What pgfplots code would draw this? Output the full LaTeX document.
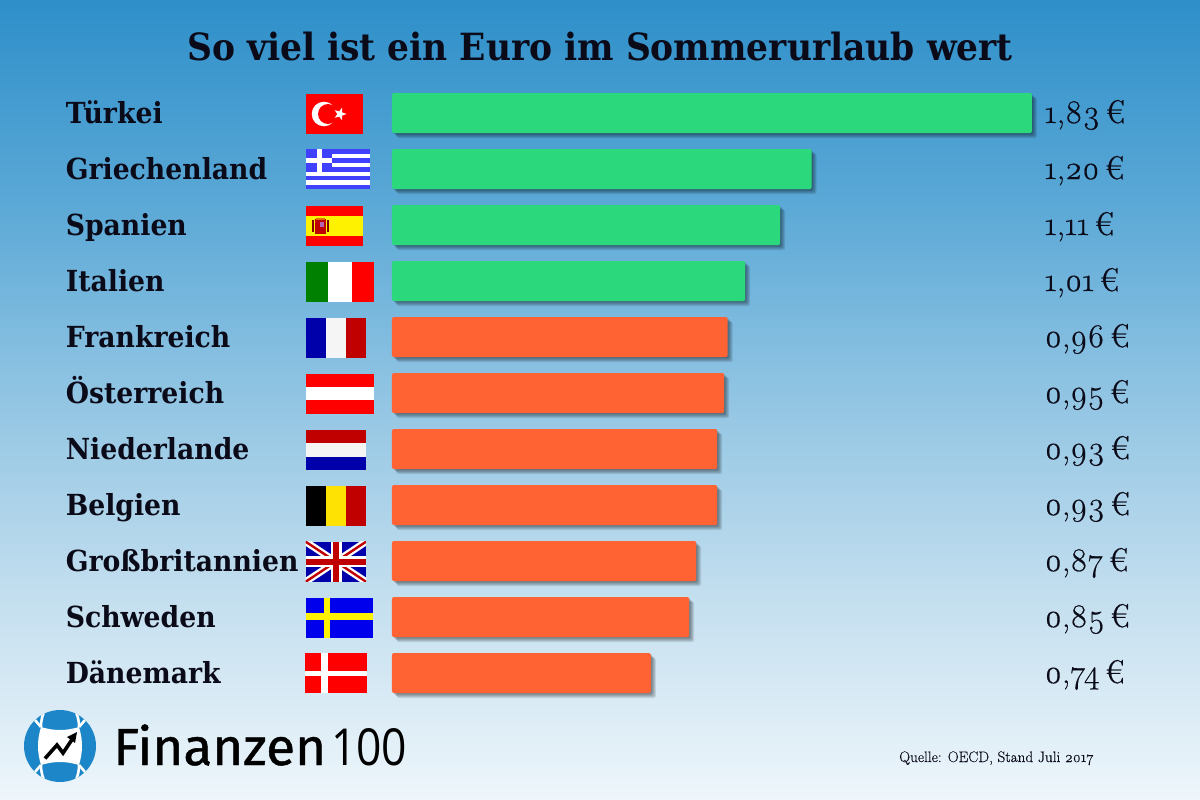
\documentclass[border=0pt]{standalone}
\usepackage{fontspec}
\usepackage{pgfplots}
\usepackage{pgfplotstable}
\pgfplotsset{compat=1.18}
\usetikzlibrary{shapes.geometric}
\newfontfamily\dv[FakeStretch=0.92]{DejaVu Serif}
\newfontfamily\valf[Numbers=OldStyle,FakeBold=0.5]{Latin Modern Roman}
\newfontfamily\srcf[Numbers=OldStyle,FakeBold=0.2]{Latin Modern Roman}
\newfontfamily\logof[FakeBold=0.9,FakeStretch=1.02]{Fira Sans}
\newfontfamily\logol[FakeStretch=0.87]{Open Sans}
\definecolor{bgA}{HTML}{2E8FC9}
\definecolor{bgB}{HTML}{5AA8D6}
\definecolor{bgC}{HTML}{92C5E3}
\definecolor{bgD}{HTML}{C4DFEF}
\definecolor{bgE}{HTML}{EEF6FB}
\definecolor{barG}{HTML}{2BD97C}
\definecolor{barO}{HTML}{FF6233}
\definecolor{txt}{HTML}{0A0A18}
\definecolor{fred}{HTML}{FF0000}
\definecolor{dred}{HTML}{C00000}
\definecolor{dblue}{HTML}{0000AA}
\definecolor{greek}{HTML}{4040FF}
\definecolor{logob}{HTML}{1C86C8}
\pgfdeclareverticalshading{pagebg}{100bp}{color(0bp)=(bgE); color(25bp)=(bgE); color(37.5bp)=(bgD); color(50bp)=(bgC); color(62.5bp)=(bgB); color(75bp)=(bgA); color(100bp)=(bgA)}
\pgfplotstableread{
y v
0 1.83
1 1.20
2 1.11
3 1.01
}\greentab
\pgfplotstableread{
y v
4 0.96
5 0.95
6 0.93
7 0.93
8 0.87
9 0.85
10 0.74
}\orangetab
\pgfplotstableread{
y lx v
0 1.866 1.83
1 1.866 1.20
2 1.866 1.11
3 1.866 1.01
4 1.866 0.96
5 1.866 0.95
6 1.866 0.93
7 1.866 0.93
8 1.866 0.87
9 1.866 0.85
10 1.866 0.74
}\labeltab
\begin{document}
\begin{tikzpicture}[x=1pt,y=-1pt]
\useasboundingbox (0,0) rectangle (1200,800);
\shade[shading=pagebg] (0,0) rectangle (1200,800);
\node[anchor=base,text=txt,font=\fontsize{37.5}{37.5}\selectfont\dv\bfseries,inner sep=0pt] at (600,60) {So viel ist ein Euro im Sommerurlaub wert};
% flags
% Turkey
\fill[fred] (305.7,93.7) rectangle (363,133.7);
\fill[white] (324,114) circle[radius=12.3pt];
\fill[fred] (328,114) circle[radius=10pt];
\node[star,star points=5,star point ratio=2.4,fill=white,minimum size=13pt,inner sep=0pt,rotate=-18] at (340,114) {};
% Greece
\fill[greek] (305.7,149.3) rectangle (369.5,189.3);
\foreach \i in {1,3,5,7} {\fill[white] (305.7,149.3+4.444*\i) rectangle (369.5,149.3+4.444*\i+4.444);}
\fill[greek] (305.7,149.3) rectangle (332,171.5);
\fill[white] (316.7,149.3) rectangle (322,171.5);
\fill[white] (305.7,158.2) rectangle (332,162.6);
% Spain
\fill[fred] (305.7,206) rectangle (363,246);
\fill[yellow] (305.7,215.7) rectangle (363,235.7);
\fill[dred] (315,219) rectangle (326,234);
\fill[dred!70!black] (312,220) rectangle (314,232);
\fill[dred!70!black] (326.5,220) rectangle (328.5,232);
\fill[orange!90!black] (316,217.5) rectangle (325,220);
\fill[violet!60] (320,222) rectangle (324,227);
% Italy
\fill[green!50!black] (305.7,261.7) rectangle (328.3,301.7);
\fill[white] (328.3,261.7) rectangle (351.7,301.7);
\fill[fred] (351.7,261.7) rectangle (374.3,301.7);
% France
\fill[dblue] (305.7,317.7) rectangle (325.7,357.7);
\fill[white!96!black] (325.7,317.7) rectangle (345.7,357.7);
\fill[dred] (345.7,317.7) rectangle (365.7,357.7);
% Austria
\fill[fred] (305.7,373.7) rectangle (374.3,413.7);
\fill[white] (305.7,386.9) rectangle (374.3,400.2);
% Netherlands
\fill[dred] (305.7,430) rectangle (366,443.3);
\fill[white!96!black] (305.7,443.3) rectangle (366,456.7);
\fill[dblue] (305.7,456.7) rectangle (366,470);
% Belgium
\fill[black] (305.7,485.7) rectangle (326,525.7);
\fill[yellow!85!orange] (326,485.7) rectangle (346,525.7);
\fill[dred] (346,485.7) rectangle (366,525.7);
% UK
\begin{scope}
\clip (305.7,541.7) rectangle (366,581.7);
\fill[dblue] (305.7,541.7) rectangle (366,581.7);
\draw[white,line width=7pt] (305.7,541.7) -- (366,581.7) (305.7,581.7) -- (366,541.7);
\draw[dred,line width=2.4pt] (305.7,541.7) -- (366,581.7) (305.7,581.7) -- (366,541.7);
\fill[white] (330.5,541.7) rectangle (341.5,581.7);
\fill[white] (305.7,556) rectangle (366,567.4);
\fill[dred] (333,541.7) rectangle (339,581.7);
\fill[dred] (305.7,558.5) rectangle (366,564.9);
\end{scope}
% Sweden
\fill[blue!93!black] (305.7,597.7) rectangle (372.7,637.7);
\fill[yellow] (324,597.7) rectangle (330,637.7);
\fill[yellow] (305.7,613.4) rectangle (372.7,620);
% Denmark
\fill[fred] (304.7,653.3) rectangle (367,693.3);
\fill[white] (321,653.3) rectangle (327.7,693.3);
\fill[white] (304.7,670.7) rectangle (367,676);
% chart
\begin{axis}[
  at={(392pt,-701pt)},anchor=south west,
  scale only axis,width=699.4pt,height=616pt,
  xmin=0,xmax=2,ymin=-0.5,ymax=10.5,y dir=reverse,
  axis line style={draw=none},clip=false,
  xtick=\empty,ytick={0,...,10},major tick length=0pt,
  yticklabels={Türkei,Griechenland,Spanien,Italien,Frankreich,Österreich,Niederlande,Belgien,Großbritannien,Schweden,Dänemark},
  yticklabel style={text width=326pt,align=left,anchor=east,inner sep=0pt,text height=27pt,text depth=6pt,text=txt,font=\fontsize{29}{29}\selectfont\dv\bfseries},
  /pgf/bar width=40pt,
]
\pgfplotsinvokeforeach{1,2,3,4,5}{
\addplot[xbar,bar shift=0pt,draw=none,fill=black,fill opacity=0.10,rounded corners=2pt,xshift=#1pt,yshift=-#1pt,forget plot] table[x=v,y=y]{\greentab};
\addplot[xbar,bar shift=0pt,draw=none,fill=black,fill opacity=0.10,rounded corners=2pt,xshift=#1pt,yshift=-#1pt,forget plot] table[x=v,y=y]{\orangetab};
}
\addplot[xbar,bar shift=0pt,draw=none,fill=barG,rounded corners=2pt] table[x=v,y=y]{\greentab};
\addplot[xbar,bar shift=0pt,draw=none,fill=barO,rounded corners=2pt] table[x=v,y=y]{\orangetab};
\addplot[draw=none,mark=none,point meta=explicit,
  nodes near coords={\pgfmathprintnumber[fixed,fixed zerofill,precision=2,use comma,assume math mode=true]{\pgfplotspointmeta}\,€},
  every node near coord/.append style={anchor=west,inner sep=0pt,text=txt,font=\fontsize{33}{33}\selectfont\valf,text height=25pt,text depth=5pt}]
  table[x=lx,y=y,meta=v]{\labeltab};
\end{axis}
% logo
\fill[logob] (60,746) circle[radius=36pt];
\fill[white] (41,727) .. controls (54,731) and (66,731) .. (79,727) .. controls (83,740) and (83,752) .. (79,765) .. controls (66,761) and (54,761) .. (41,765) .. controls (37,752) and (37,740) .. (41,727) -- cycle;
\begin{scope}
\clip (60,746) circle[radius=36pt];
\draw[white,line width=2.6pt] (41,727) -- (28,712) (79,727) -- (92,712) (41,765) -- (28,780) (79,765) -- (92,780);
\draw[white,line width=2.6pt] (46,708) .. controls (42,715) and (41,721) .. (41,727) (74,708) .. controls (78,715) and (79,721) .. (79,727) (46,784) .. controls (42,777) and (41,771) .. (41,765) (74,784) .. controls (78,777) and (79,771) .. (79,765);
\end{scope}
\draw[black,line width=3.6pt] (45,758.5) -- (57,745) -- (63,753) -- (73,738);
\fill[black] (77,732) -- (67,737) -- (75,743) -- cycle;
\node[anchor=base west,inner sep=0pt,text=black,font=\fontsize{52}{52}\selectfont\logof] at (113,765) {Finanzen};
\node[anchor=base west,inner sep=0pt,text=black,font=\fontsize{51}{51}\selectfont\logol] at (331,765) {100};
\node[anchor=base west,inner sep=0pt,text=txt,font=\fontsize{15.2}{15.2}\selectfont\srcf] at (899,762) {Quelle: OECD, Stand Juli 2017};
\end{tikzpicture}
\end{document}
